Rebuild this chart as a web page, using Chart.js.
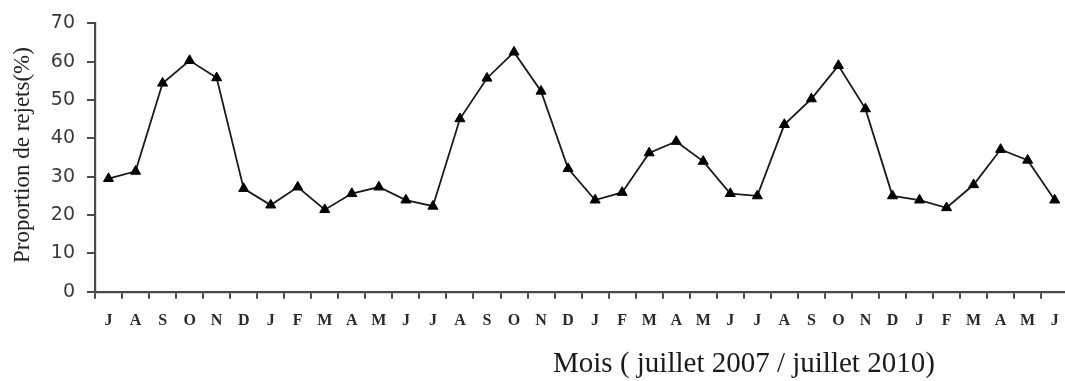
<!DOCTYPE html>
<html>
<head>
<meta charset="utf-8">
<script src="https://cdn.jsdelivr.net/npm/chart.js@4.4.0/dist/chart.umd.min.js"></script>
<style>
  html, body { margin: 0; padding: 0; background: #fff; overflow: hidden; }
  #wrap { width: 1065px; height: 381px; overflow: hidden; position: relative; }
  #c { position: absolute; left: 0; top: 0; }
</style>
</head>
<body>
<div id="wrap"><canvas id="c" width="1075" height="381"></canvas></div>
<script>
// Monthly labels, July 2007 through June 2010
const months = ['J','A','S','O','N','D','J','F','M','A','M','J',
                'J','A','S','O','N','D','J','F','M','A','M','J',
                'J','A','S','O','N','D','J','F','M','A','M','J'];

// Proportion of rejections per month (%)
const rejets = [29.5, 31.4, 54.4, 60.3, 55.8, 26.9, 22.6, 27.3, 21.4, 25.6, 27.3, 23.9,
                22.3, 45.1, 55.7, 62.5, 52.3, 32.1, 23.9, 25.9, 36.2, 39.2, 34.0, 25.6,
                25.0, 43.6, 50.3, 59.0, 47.7, 25.0, 23.9, 21.9, 27.9, 37.1, 34.3, 23.9];

const yTicks = [0, 10, 20, 30, 40, 50, 60, 70];

const yTitle = 'Proportion de rejets(%)';
const xTitle = 'Mois ( juillet 2007 / juillet 2010)';

const axisColor = '#4a4a4a';
const serif = '"Liberation Serif", "Times New Roman", serif';

// Draws the two axis titles
const axisTitles = {
  id: 'axisTitles',
  afterDraw(chart) {
    const ctx = chart.ctx;
    const a = chart.chartArea;
    ctx.save();
    ctx.fillStyle = '#222';
    ctx.font = '23px ' + serif;
    ctx.textAlign = 'center';
    ctx.textBaseline = 'middle';
    ctx.translate(23, 155);
    ctx.rotate(-Math.PI / 2);
    ctx.fillText(yTitle, 0, 0);
    ctx.restore();

    ctx.save();
    ctx.fillStyle = '#1a1a1a';
    ctx.font = '29px ' + serif;
    ctx.textAlign = 'left';
    ctx.textBaseline = 'alphabetic';
    ctx.fillText(xTitle, a.left + 458, 372);
    ctx.restore();
  }
};

new Chart(document.getElementById('c'), {
  type: 'line',
  data: {
    labels: months,
    datasets: [{
      data: rejets,
      borderColor: '#1a1a1a',
      borderWidth: 1.8,
      backgroundColor: '#000',
      pointStyle: 'triangle',
      pointRadius: 5.8,
      pointBorderWidth: 1,
      pointBorderColor: '#000',
      pointBackgroundColor: '#000',
      tension: 0,
      fill: false
    }]
  },
  options: {
    responsive: false,
    animation: false,
    layout: { padding: { top: 23, right: 3, bottom: 0, left: 0 } },
    plugins: { legend: { display: false }, tooltip: { enabled: false } },
    scales: {
      x: {
        type: 'category',
        offset: true,
        afterFit(scale) { scale.height = 89.3; },
        border: { display: true, color: axisColor, width: 2.2 },
        grid: {
          offset: true,
          drawOnChartArea: false,
          drawTicks: true,
          tickLength: 7,
          color: axisColor,
          lineWidth: 2
        },
        ticks: {
          autoSkip: false,
          maxRotation: 0,
          padding: 13,
          color: '#2a2a2a',
          font: { family: serif, size: 16, weight: 'bold' }
        }
      },
      y: {
        min: 0,
        max: 70,
        afterFit(scale) { scale.width = 95; },
        afterBuildTicks(scale) { scale.ticks = yTicks.map(v => ({ value: v })); },
        border: { display: true, color: axisColor, width: 2.2 },
        grid: {
          drawOnChartArea: false,
          drawTicks: true,
          tickLength: 8,
          color: axisColor,
          lineWidth: 2
        },
        ticks: {
          padding: 12,
          color: '#3a3a3a',
          font: { family: '"DejaVu Sans", sans-serif', size: 19 }
        }
      }
    }
  },
  plugins: [axisTitles]
});
</script>
</body>
</html>
